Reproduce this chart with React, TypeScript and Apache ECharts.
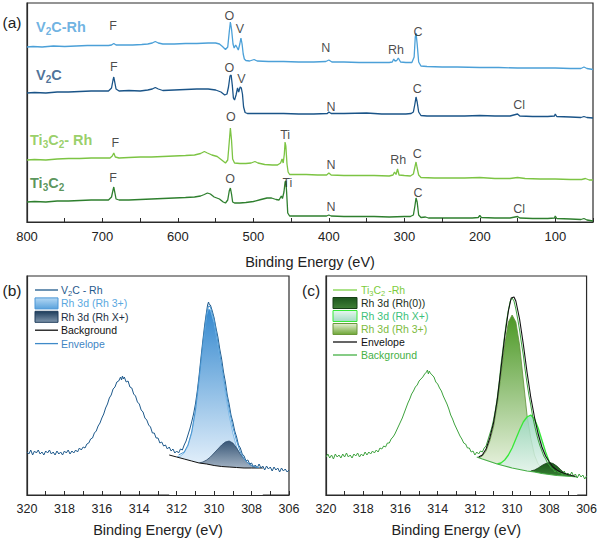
import React, { useEffect, useRef } from 'react';
import * as echarts from 'echarts';

// ---------- Panel (a): survey spectra [binding energy eV, intensity a.u.] ----------
const v2cRhSurvey = [
  [800,175],[792,175.5],[780,175],[765,176],[750,175.5],[735,176],[720,176.5],[705,176.5],[692,176.5],[688,177],[685,178.5],[682,177],[675,177],[660,177],[648,177.5],[640,178],[634,179],[630,180.5],[626,179],[620,178],[605,178],[590,178.5],[575,178.5],[560,179],[550,179],[545,178],[541,175.5],[537,172.5],[534,175],[532,190],[530.5,200],[529,193],[527,178],[525.5,174],[523.5,177],[522,175],[520,172],[518,178],[516.5,184],[515,178],[513.5,168],[512,163],[510,161.5],[505,161],[499,162.5],[495,161],[480,160.5],[460,160.5],[440,160],[420,160],[404,160.5],[400,162],[396,160],[380,160],[360,159.5],[340,159.5],[320,159.5],[316,160],[314,163],[312.5,161],[310,161.5],[308,164],[305,160],[298,159.5],[290,159.5],[287,165],[285.5,185],[284.5,189],[283,178],[281,160],[278,156],[270,155.5],[250,155],[230,155],[200,154.5],[175,154.5],[150,154],[125,154],[100,154],[80,153.5],[66,153.5],[62,155],[58,153.5],[54,153],[50,152.5]
];
const v2cSurvey = [
  [800,129],[790,129.5],[775,129],[760,130],[745,130],[730,130.5],[715,131],[700,131],[692,131],[688,134],[686,142],[685,145],[684,141],[682,133],[678,131],[665,131.5],[650,131],[640,132],[634,133],[630,134.5],[626,133],[620,131.5],[605,132],[590,132.5],[575,133],[560,133],[550,132],[543,130],[538,127],[535,128],[533,135],[531,146],[529.5,147],[528,137],[526.5,124],[525,122],[523,127],[521,134],[519.5,130],[517.5,135],[516,134],[514.5,128],[513,115],[511,109.5],[508,108.5],[500,108.5],[480,108.5],[460,108.5],[440,108],[420,108],[402,108.5],[400,110],[397,108.5],[380,108.5],[350,109],[330,108],[310,108],[298,108],[291,108.5],[288,110],[286,118],[284.5,125],[283,120],[281,110],[278,106.5],[270,106],[250,106],[220,106],[200,106.5],[180,106],[160,106],[150,108],[147,106],[130,105.5],[110,105.5],[101,106],[100,108],[98,105.5],[80,105],[66,104.5],[62,105.5],[58,104.5],[50,104]
];
const ti3c2RhSurvey = [
  [800,62],[790,62.5],[775,62],[760,63],[745,63.5],[730,63.5],[715,64],[700,64],[690,64],[687,66],[685,69],[683,65],[678,64],[665,64.5],[650,65],[635,65],[620,65.5],[605,66],[590,66.5],[578,67],[570,68.5],[565,70.5],[561,69],[555,67],[548,65.5],[542,62],[537,59],[534,62],[532,80],[530.5,94],[529,82],[527.5,63],[525,59],[518,58.5],[510,58.5],[503,59],[498,60.5],[494,59],[485,57.5],[475,57],[468,57],[464,59],[462,63],[460.5,59],[459,68],[458,80],[457,76],[455.5,58],[454,50],[452,47.5],[445,47.5],[430,47.5],[415,47],[403,47],[400,49],[397,47],[380,46.5],[360,46.5],[340,46.5],[320,46],[315,47],[313,50],[311,47.5],[309,53],[307,47],[300,46.5],[292,46],[288,48],[286,55],[284.5,60],[283,54],[281,47],[278,44.5],[260,44],[240,44],[220,44],[200,44.5],[180,43.5],[160,43.5],[150,44.5],[140,43.5],[120,43],[100,43],[80,42.5],[65,42.5],[60,43.5],[55,42],[50,42]
];
const ti3c2Survey = [
  [800,20],[790,20.5],[775,20],[760,21],[745,21],[730,21.5],[715,22],[700,22],[692,22],[688,25],[686,32],[685,35],[684,31],[682,23],[678,22],[665,22],[650,22.5],[635,23],[620,23.5],[605,24],[590,24.5],[578,25],[570,26],[565,27.5],[561,29],[557,28],[552,25],[545,23],[540,20],[537,19],[534,22],[532,31],[530.5,34],[529,28],[527.5,20],[525,19],[518,19],[510,19.5],[500,20.5],[490,22.5],[482,24],[476,24],[470,22.5],[466,22],[463,26],[461.5,23.5],[459.5,30],[458,40],[457,41],[456,30],[454.5,9],[452,6],[445,6],[430,6],[415,6],[403,6],[400,7],[397,6],[380,5.5],[360,5.5],[340,5.5],[320,5],[300,5.5],[292,5.5],[288,7],[286,16],[284.5,24],[283,20],[281,7],[278,4.5],[272,5],[268,4],[250,4],[230,4],[210,4],[202,4.5],[200,6.5],[198,4.5],[180,4],[160,4],[150,5.5],[147,4],[130,3.5],[110,3.5],[101,4],[100,6],[98,3.5],[80,3],[66,2.5],[62,3.5],[58,2],[54,1.5],[50,1]
];
// element annotations [eV, intensity, text]
const peakLabelsA: [number, number, string][] = [
  [686,196,'F'],[532,206,'O'],[518,193,'V'],[404,174,'N'],[311,172,'Rh'],[282,190,'C'],
  [685,155,'F'],[532,154,'O'],[516,143,'V'],[397,115,'N'],[283,133,'C'],[148,117,'Cl'],
  [683,79,'F'],[530,105,'O'],[458,87,'Ti'],[397,57,'N'],[308,62,'Rh'],[283,68,'C'],
  [686,44,'F'],[531,43,'O'],[455,39,'Ti'],[397,15,'N'],[282,29,'C'],[148,13,'Cl'],
];
const sampleNamesA: [number, number, string][] = [
  [788,195,'V2C-Rh'],[788,147,'V2C'],[796,82,'Ti3C2- Rh'],[796,39,'Ti3C2'],
];

// ---------- Panel (b): V2C-Rh Rh 3d ----------
const bSpectrum = [
  [320,43],[319.9,41],[319.8,45],[319.7,40],[319.6,44],[319.5,42],[319.4,45],[319.3,41],[319.2,43],[319.1,40],[319,44],[318.9,42],[318.8,45],[318.7,41],[318.6,43],[318.5,40],[318.4,44],[318.3,41],[318.2,43],[318.1,40],[318,44],[317.9,42],[317.8,45],[317.7,41],[317.6,44],[317.5,42],[317.4,45],[317.3,43],[317.2,47],[317.1,45],[317,48],
  [316.9,47],[316.8,51],[316.7,52],[316.6,56],[316.5,57],[316.4,62],[316.3,64],[316.2,69],[316.1,72],[316,77],[315.9,81],[315.8,87],[315.7,91],[315.6,97],[315.5,100],[315.4,106],[315.3,108],[315.2,113],[315.1,114],[315,118],[314.95,115],[314.9,119],[314.85,116],[314.8,118],[314.7,113],[314.6,114],[314.5,108],[314.4,107],[314.3,101],[314.2,99],[314.1,93],[314,91],[313.9,85],[313.8,83],[313.7,77],[313.6,75],[313.5,70],[313.4,68],[313.3,62],[313.2,62],[313.1,57],[313,57],[312.9,52],[312.8,53],[312.7,49],[312.6,50],[312.5,46],[312.4,48],[312.3,44],[312.2,46],[312.1,42],[312,44],[311.9,42],[311.8,46],[311.7,45],[311.6,50],[311.5,54],[311.4,60],[311.3,66],[311.2,73],[311.1,81],[311,91],[310.9,104],[310.8,120],[310.7,138],[310.6,155],[310.5,171],[310.4,184],[310.35,190],[310.3,193],[310.25,190],[310.2,190],[310.1,184],[310,177],[309.9,167],[309.8,158],[309.7,146],[309.6,136],[309.5,123],[309.4,113],[309.3,100],[309.2,91],[309.1,80],[309,73],[308.9,64],[308.8,58],[308.7,50],[308.6,47],[308.5,41],[308.4,39],[308.3,34],[308.2,35],[308.1,31],[308,32],[307.9,28],[307.8,30],[307.7,27],[307.6,31],[307.5,27],[307.4,29],[307.3,25],[307.2,29],[307.1,26],[307,28],[306.9,24],[306.8,28],[306.7,25],[306.6,27],[306.5,23],[306.4,27],[306.3,24],[306.2,26],[306.1,23],[306,25]
];
const bRh3 = [[312,38],[311.8,39],[311.6,42],[311.4,49],[311.2,62],[311,83],[310.8,115],[310.6,150],[310.4,180],[310.3,186],[310.2,185],[310,172],[309.8,150],[309.6,126],[309.4,102],[309.2,80],[309,62],[308.8,48],[308.6,39],[308.4,33],[308.2,30],[308,28.5],[307.8,28]];
const bRhX = [[310.8,32],[310.6,33],[310.4,35],[310.2,38],[310,42],[309.8,46],[309.6,50],[309.4,53],[309.2,54],[309,52],[308.8,47],[308.6,41],[308.4,36],[308.2,32],[308,29.5],[307.8,28],[307.6,27]];
const bBackground = [[312.4,40],[312,38],[311.6,36],[311.2,34],[310.8,32],[310.4,31],[310,29.5],[309.6,28.5],[309.2,28],[308.8,27.5],[308.4,27],[308,27],[307.6,27],[307.4,27]];
const bEnvelope = [[311.9,40],[311.6,43],[311.4,50],[311.2,63],[311,85],[310.8,117],[310.6,152],[310.4,182],[310.3,189],[310.2,188],[310,175],[309.8,153],[309.6,130],[309.4,107],[309.2,86],[309,68],[308.8,54],[308.6,43],[308.4,36],[308.2,32],[308,29.5],[307.8,28],[307.6,27.5]];

// ---------- Panel (c): Ti3C2-Rh Rh 3d ----------
const cSpectrum = [
  [320,38],[319.9,41],[319.8,37],[319.7,40],[319.6,36],[319.5,41],[319.4,38],[319.3,40],[319.2,37],[319.1,41],[319,38],[318.9,42],[318.8,38],[318.7,40],[318.6,37],[318.5,41],[318.4,39],[318.3,42],[318.2,38],[318.1,41],[318,39],[317.9,43],[317.8,40],[317.7,43],[317.6,41],[317.5,44],[317.4,42],[317.3,45],[317.2,43],[317.1,47],[317,46],[316.9,49],[316.8,48],[316.7,52],[316.6,52],[316.5,56],[316.4,58],[316.3,61],[316.2,65],[316.1,69],[316,73],[315.9,77],[315.8,82],[315.7,87],[315.6,92],[315.5,96],[315.4,101],[315.3,104],[315.2,108],[315.1,110],[315,114],[314.9,116],[314.8,118],[314.7,121],[314.6,123],[314.55,125],[314.5,121],[314.45,124],[314.4,122],[314.3,120],[314.2,118],[314.1,113],[314,111],[313.9,107],[313.8,104],[313.7,99],[313.6,95],[313.5,91],[313.4,86],[313.3,80],[313.2,76],[313.1,71],[313,67],[312.9,63],[312.8,59],[312.7,56],[312.6,52],[312.5,51],[312.4,47],[312.3,47],[312.2,43],[312.1,44],[312,40],[311.9,43],[311.8,41],[311.7,44],[311.6,43],[311.5,47],[311.4,49],[311.3,55],[311.2,61],[311.1,67],[311,75],[310.9,85],[310.8,97],[310.7,112],[310.6,130],[310.5,145],[310.4,160],[310.3,174],[310.2,185],[310.1,194],[310,197],[309.9,194],[309.8,186],[309.7,176],[309.6,165],[309.5,152],[309.4,140],[309.3,125],[309.2,112],[309.1,100],[309,90],[308.9,79],[308.8,70],[308.7,62],[308.6,55],[308.5,49],[308.4,44],[308.3,39],[308.2,36],[308.1,32],[308,30],[307.9,27],[307.8,26],[307.7,23],[307.6,25],[307.5,22],[307.4,23],[307.3,20],[307.2,24],[307.1,20],[307,22],[306.9,19],[306.8,23],[306.7,19],[306.6,21],[306.5,17],[306.4,21],[306.3,18],[306.2,20],[306.1,16],[306,19]
];
const cRh3 = [[311.8,37],[311.6,39],[311.4,44],[311.2,54],[311,68],[310.8,90],[310.6,120],[310.4,150],[310.2,173],[310,180],[309.8,173],[309.6,150],[309.4,115],[309.2,80],[309,57],[308.8,40],[308.6,31],[308.4,27],[308.2,25],[308,23]];
const cRhX = [[310.8,31],[310.6,32],[310.4,35],[310.2,40],[310,47],[309.8,56],[309.6,65],[309.4,73],[309.2,78],[309,80],[308.8,76],[308.6,67],[308.4,55],[308.2,43],[308,33],[307.8,27],[307.6,24],[307.4,22],[307.2,21]];
const cRh0 = [[309,24],[308.8,25],[308.6,27],[308.4,29.5],[308.2,31.5],[308,32.5],[307.8,31.5],[307.6,29],[307.4,25.5],[307.2,22],[307,20],[306.8,18.5]];
const cBackground = [[311.9,38],[311.6,36],[311.2,33.5],[310.8,31],[310.4,29],[310,27],[309.6,25.5],[309.2,24],[308.8,23],[308.4,21.5],[308,20.5],[307.6,19.5],[307.2,19],[306.8,18.5],[306.5,18]];
const cEnvelope = [[311.8,38],[311.6,40],[311.4,46],[311.2,57],[311,72],[310.8,95],[310.6,126],[310.4,158],[310.2,184],[310.05,197],[309.9,198],[309.8,194],[309.6,176],[309.4,151],[309.2,123],[309,98],[308.8,78],[308.6,61],[308.4,48],[308.2,39],[308,33],[307.8,28],[307.6,25],[307.4,23],[307,20.5],[306.6,18.5]];

const legendTextsB = ['V2C - Rh', 'Rh 3d (Rh 3+)', 'Rh 3d (Rh X+)', 'Background', 'Envelope'];
const legendTextsC = ['Ti3C2 -Rh', 'Rh 3d (Rh(0))', 'Rh 3d (Rh X+)', 'Rh 3d (Rh 3+)', 'Envelope', 'Background'];
const panelLetters = ['(a)', '(b)', '(c)'];
const axisTitle = 'Binding Energy (eV)';

const FONT = 'Arial, "Liberation Sans", Helvetica, sans-serif';

const grad = (top: string, bottom: string) => ({
  type: 'linear', x: 0, y: 0, x2: 0, y2: 1,
  colorStops: [{ offset: 0, color: top }, { offset: 1, color: bottom }],
});

const subRich = (t: string, key: string) => t.replace(/([A-Za-z])(\d)/g, `$1{${key}|$2}`);

export default function App() {
  const ref = useRef<HTMLDivElement>(null);
  useEffect(() => {
    const chart = echarts.init(ref.current!, null, { renderer: 'svg' });
    const axisColor = '#2b2b2b';

    const energyAxis = (gridIndex: number, min: number, max: number, interval: number, step: number, fontSize: number, margin: number, nameGap: number) => ({
      type: 'value', gridIndex, min, max, interval, inverse: true, z: 10,
      axisLine: { show: true, onZero: false, lineStyle: { color: axisColor, width: 1.2 } },
      axisTick: { show: true, inside: true, length: 4, lineStyle: { color: axisColor, width: 1 } },
      axisLabel: {
        color: '#222', fontSize, fontFamily: FONT, margin,
        formatter: (v: number) => (Math.round(v) % step === 0 ? String(Math.round(v)) : ''),
      },
      splitLine: { show: false },
      name: axisTitle, nameLocation: 'middle', nameGap,
      nameTextStyle: { color: '#222', fontSize: 14.5, fontFamily: FONT },
    });
    const intensityAxis = (gridIndex: number) => ({
      type: 'value', gridIndex, min: 0, max: 219,
      axisLine: { show: true, lineStyle: { color: axisColor, width: 1.2 } },
      axisTick: { show: false }, axisLabel: { show: false }, splitLine: { show: false },
    });

    const line = (data: number[][], axis: number, color: string, width: number, z: number, extra: any = {}) => ({
      type: 'line', data, xAxisIndex: axis, yAxisIndex: axis, symbol: 'none', silent: true,
      lineStyle: { color, width }, itemStyle: { color }, z, animation: false, ...extra,
    });

    const surveyColors = ['#4ba0d8', '#1a5488', '#7cc443', '#2e7f2e'];
    const nameColors = ['#4aa0da', '#1f4f80', '#80c342', '#2f7a32'];

    const legendB = [
      { kind: 'line', color: '#1f5a8c', text: '#1f5a8c' },
      { kind: 'rect', fill: grad('#b4d8f4', '#5aa2dc'), stroke: '#4a96d6', text: '#5aa8e0' },
      { kind: 'rect', fill: grad('#1e3d5c', '#7f96ad'), stroke: '#1e3d5c', text: '#1c2f44' },
      { kind: 'line', color: '#111', text: '#111' },
      { kind: 'line', color: '#3f8ac8', text: '#3f86c4' },
    ];
    const legendC = [
      { kind: 'line', color: '#7ed348', text: '#7ccc3c' },
      { kind: 'rect', fill: grad('#1c561c', '#3f7f36'), stroke: '#173f17', text: '#1a2e1a' },
      { kind: 'rect', fill: grad('#e6f6ef', '#a4dbc4'), stroke: '#38e838', text: '#3bbf7a' },
      { kind: 'rect', fill: grad('#e4efd2', '#6ea636'), stroke: '#6a983a', text: '#7dbb3d' },
      { kind: 'line', color: '#111', text: '#111' },
      { kind: 'line', color: '#45b045', text: '#45b045' },
    ];

    const legendGraphics = (texts: string[], styles: any[], x0: number, w: number, y0: number, dy: number, tx: number) => {
      const els: any[] = [];
      texts.forEach((t, i) => {
        const s = styles[i];
        const cy = y0 + i * dy;
        if (s.kind === 'line') {
          els.push({ type: 'line', shape: { x1: x0, y1: cy, x2: x0 + w, y2: cy }, style: { stroke: s.color, lineWidth: 1.3 }, z: 20 });
        } else {
          els.push({ type: 'rect', shape: { x: x0, y: cy - 5.5, width: w, height: 11 }, style: { fill: s.fill, stroke: s.stroke, lineWidth: 1 }, z: 20 });
        }
        els.push({
          type: 'text', x: tx, y: cy, z: 20,
          style: {
            text: subRich(t, 'sub'), fill: s.text, fontSize: 10.5, fontFamily: FONT,
            align: 'left', verticalAlign: 'middle', textAlign: 'left', textVerticalAlign: 'middle',
            lineHeight: 14,
            rich: { sub: { fontSize: 7.5, fill: s.text, fontFamily: FONT, verticalAlign: 'bottom', lineHeight: 8 } },
          },
        });
      });
      return els;
    };

    const letterPos = [[12, 22], [12, 290], [311, 290]];
    const letters = panelLetters.map((t, i) => ({
      type: 'text', x: letterPos[i][0], y: letterPos[i][1], z: 20,
      style: { text: t, fill: '#222', fontSize: 15.5, fontFamily: FONT, align: 'center', verticalAlign: 'middle', textAlign: 'center', textVerticalAlign: 'middle' },
    }));

    const nameRich: any = {};
    nameColors.forEach((c, i) => {
      nameRich['s' + i] = { fontSize: 10, fontWeight: 'bold', color: c, fontFamily: FONT, verticalAlign: 'bottom', lineHeight: 10 };
    });

    const option: any = {
      animation: false,
      backgroundColor: '#ffffff',
      textStyle: { fontFamily: FONT },
      grid: [
        { left: 27, top: 3, width: 566, height: 219, show: true, borderColor: axisColor, borderWidth: 1.2, containLabel: false },
        { left: 27, top: 276, width: 262, height: 219, show: true, borderColor: axisColor, borderWidth: 1.2, containLabel: false },
        { left: 326, top: 276, width: 262, height: 219, show: true, borderColor: axisColor, borderWidth: 1.2, containLabel: false },
      ],
      xAxis: [
        energyAxis(0, 50, 800, 50, 100, 13, 8, 32),
        energyAxis(1, 306, 320, 1, 2, 12.5, 7, 27),
        energyAxis(2, 306, 320, 1, 2, 12.5, 7, 27),
      ],
      yAxis: [intensityAxis(0), intensityAxis(1), intensityAxis(2)],
      series: [
        line(v2cRhSurvey, 0, surveyColors[0], 1.3, 3),
        line(v2cSurvey, 0, surveyColors[1], 1.3, 3),
        line(ti3c2RhSurvey, 0, surveyColors[2], 1.3, 3),
        line(ti3c2Survey, 0, surveyColors[3], 1.3, 3),
        {
          type: 'scatter', xAxisIndex: 0, yAxisIndex: 0, symbolSize: 0, silent: true, z: 8,
          data: peakLabelsA.map(([x, y, t]) => ({ value: [x, y], name: t })),
          label: { show: true, position: 'inside', formatter: (p: any) => p.name, color: '#1a1a1a', fontSize: 12.5, fontFamily: FONT },
        },
        {
          type: 'scatter', xAxisIndex: 0, yAxisIndex: 0, symbolSize: 0, silent: true, z: 8,
          data: sampleNamesA.map(([x, y, t], i) => ({ value: [x, y], name: t, label: { color: nameColors[i] } })),
          label: {
            show: true, position: [0, 0], align: 'left', verticalAlign: 'middle',
            formatter: (p: any) => subRich(p.name, 's' + p.dataIndex),
            fontWeight: 'bold', fontSize: 14.5, fontFamily: FONT, lineHeight: 18, rich: nameRich,
          },
        },
        // panel b
        line(bRh3, 1, '#6ab0e6', 0.8, 2, { areaStyle: { color: grad('#3589cf', '#e9f3fc'), opacity: 1, origin: 24 } }),
        line(bRhX, 1, '#2b4a6b', 0.8, 3, { areaStyle: { color: grad('#2c4b6c', '#a9b8c8'), opacity: 0.92, origin: 24 } }),
        line(bBackground, 1, '#111', 1, 4, { areaStyle: { color: '#ffffff', opacity: 1, origin: 'start' } }),
        line(bSpectrum, 1, '#1f5a8c', 1, 5),
        line(bEnvelope, 1, '#4a95d0', 1, 6),
        // panel c
        line(cRh3, 2, '#5f8f3a', 0.8, 2, { areaStyle: { color: grad('#4b9824', '#f3f8ec'), opacity: 1, origin: 15 } }),
        line(cRhX, 2, '#38e838', 1.3, 3, { areaStyle: { color: grad('#96d6bc', '#eef8f3'), opacity: 0.85, origin: 15 } }),
        line(cRh0, 2, '#173f17', 0.8, 3.5, { areaStyle: { color: grad('#1a581a', '#3f8a3a'), opacity: 1, origin: 15 } }),
        line(cBackground, 2, '#45ad45', 1.2, 4, { areaStyle: { color: '#ffffff', opacity: 1, origin: 'start' } }),
        line(cSpectrum, 2, '#3ea23e', 1, 5),
        line(cEnvelope, 2, '#111', 1.1, 6),
      ],
      graphic: [
        ...letters,
        ...legendGraphics(legendTextsB, legendB, 35, 23, 290, 13.4, 61),
        ...legendGraphics(legendTextsC, legendC, 333, 24, 290, 13, 361),
      ],
    };
    chart.setOption(option);
    return () => chart.dispose();
  }, []);
  return <div ref={ref} style={{ position: 'fixed', left: 0, top: 0, width: 600, height: 540, background: '#fff' }} />;
}
